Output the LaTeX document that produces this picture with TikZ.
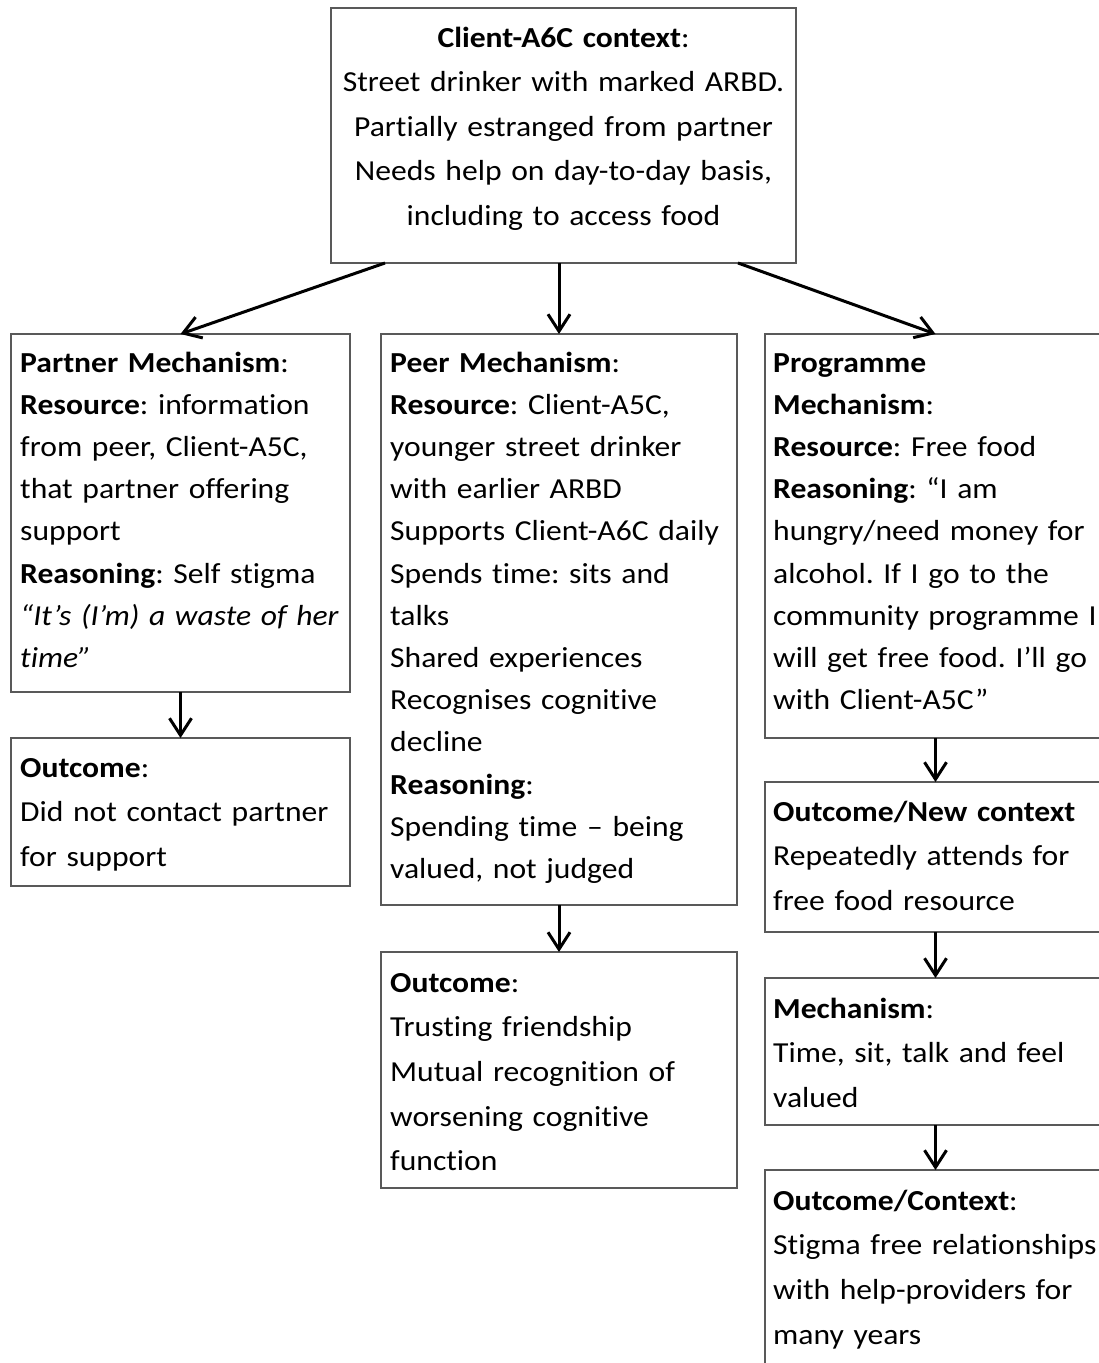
\documentclass[tikz,border=0pt]{standalone}
\usepackage{fontspec}
\setmainfont[FakeStretch=1.09, Ligatures={NoCommon}]{Carlito}
\usetikzlibrary{arrows.meta}
\frenchspacing
\begin{document}
\begin{tikzpicture}[x=1pt,y=-1pt,
  box/.style={draw=black!65, line width=1.3pt, anchor=north west,
    inner sep=0pt, outer sep=0pt},
  txt/.style={anchor=base west, inner sep=0pt, align=left, text width=420pt,
    font=\fontsize{29}{42.2}\selectfont},
  otxt/.style={txt, font=\fontsize{29}{44.7}\selectfont},
  arr/.style={draw=black, line width=3pt,
    -{Straight Barb[length=17pt,width=22pt,line width=3pt]}}
]
\useasboundingbox (0,0) rectangle (1099,1363);
\clip (0,0) rectangle (1099,1363);

% context box
\node[box, minimum width=465pt, minimum height=255pt] (top) at (331,8) {};
\node[anchor=base, inner sep=0pt, align=center, text width=460pt,
  font=\fontsize{29}{44.5}\selectfont] (toptxt) at (563.5,47)
  {\textbf{Client-A6C context}:\\
   Street drinker with marked ARBD.\\
   Partially estranged from partner\\
   Needs help on day-to-day basis,\\
   including to access food};

% three mechanism boxes
\node[box, minimum width=339pt, minimum height=358pt] (partner) at (11,334) {};
\node[box, minimum width=356pt, minimum height=571pt] (peer) at (381,334) {};
\node[box, minimum width=341pt, minimum height=404pt] (prog) at (765,334) {};

\node[txt] (partnertxt) at (20,372)
  {\textbf{Partner Mechanism}:\\
   \textbf{Resource}: information\\
   from peer, Client-A5C,\\
   that partner offering\\
   support\\
   \textbf{Reasoning}: Self stigma\\
   \textit{“It’s (I’m) a waste of her}\\
   \textit{time”}};

\node[txt] (peertxt) at (390,372)
  {\textbf{Peer Mechanism}:\\
   \textbf{Resource}: Client-A5C,\\
   younger street drinker\\
   with earlier ARBD\\
   Supports Client-A6C daily\\
   Spends time: sits and\\
   talks\\
   Shared experiences\\
   Recognises cognitive\\
   decline\\
   \textbf{Reasoning}:\\
   Spending time – being\\
   valued, not judged};

\node[txt] (progtxt) at (773,372)
  {\textbf{Programme}\\
   \textbf{Mechanism}:\\
   \textbf{Resource}: Free food\\
   \textbf{Reasoning}: “I am\\
   hungry/need money for\\
   alcohol. If I go to the\\
   community programme I\\
   will get free food. I’ll go\\
   with Client-A5C”};

% outcome boxes
\node[box, minimum width=339pt, minimum height=148pt] (partnerout) at (11,738) {};
\node[otxt] (partnerouttxt) at (20,777)
  {\textbf{Outcome}:\\
   Did not contact partner\\
   for support};

\node[box, minimum width=356pt, minimum height=236pt] (peerout) at (381,952) {};
\node[otxt] (peerouttxt) at (390,992)
  {\textbf{Outcome}:\\
   Trusting friendship\\
   Mutual recognition of\\
   worsening cognitive\\
   function};

\node[box, minimum width=341pt, minimum height=150pt] (newctx) at (765,782) {};
\node[otxt] (newctxtxt) at (773,821)
  {\textbf{Outcome/New context}\\
   Repeatedly attends for\\
   free food resource};

\node[box, minimum width=341pt, minimum height=147pt] (mech) at (765,978) {};
\node[otxt] (mechtxt) at (773,1018)
  {\textbf{Mechanism}:\\
   Time, sit, talk and feel\\
   valued};

\node[box, minimum width=341pt, minimum height=230pt] (outctx) at (765,1170) {};
\node[otxt] (outctxtxt) at (773,1210)
  {\textbf{Outcome/Context}:\\
   Stigma free relationships\\
   with help-providers for\\
   many years};

% connectors
\draw[arr] ([xshift=-178.5pt]top.south) -- (partner.north);
\draw[arr] (top.south -| peer.north) -- (peer.north);
\draw[arr] ([xshift=174.5pt]top.south) -- (prog.north);
\draw[arr] (partner.south) -- (partnerout.north);
\draw[arr] (peer.south) -- (peerout.north);
\draw[arr] (prog.south) -- (newctx.north);
\draw[arr] (newctx.south) -- (mech.north);
\draw[arr] (mech.south) -- (outctx.north);
\end{tikzpicture}
\end{document}
